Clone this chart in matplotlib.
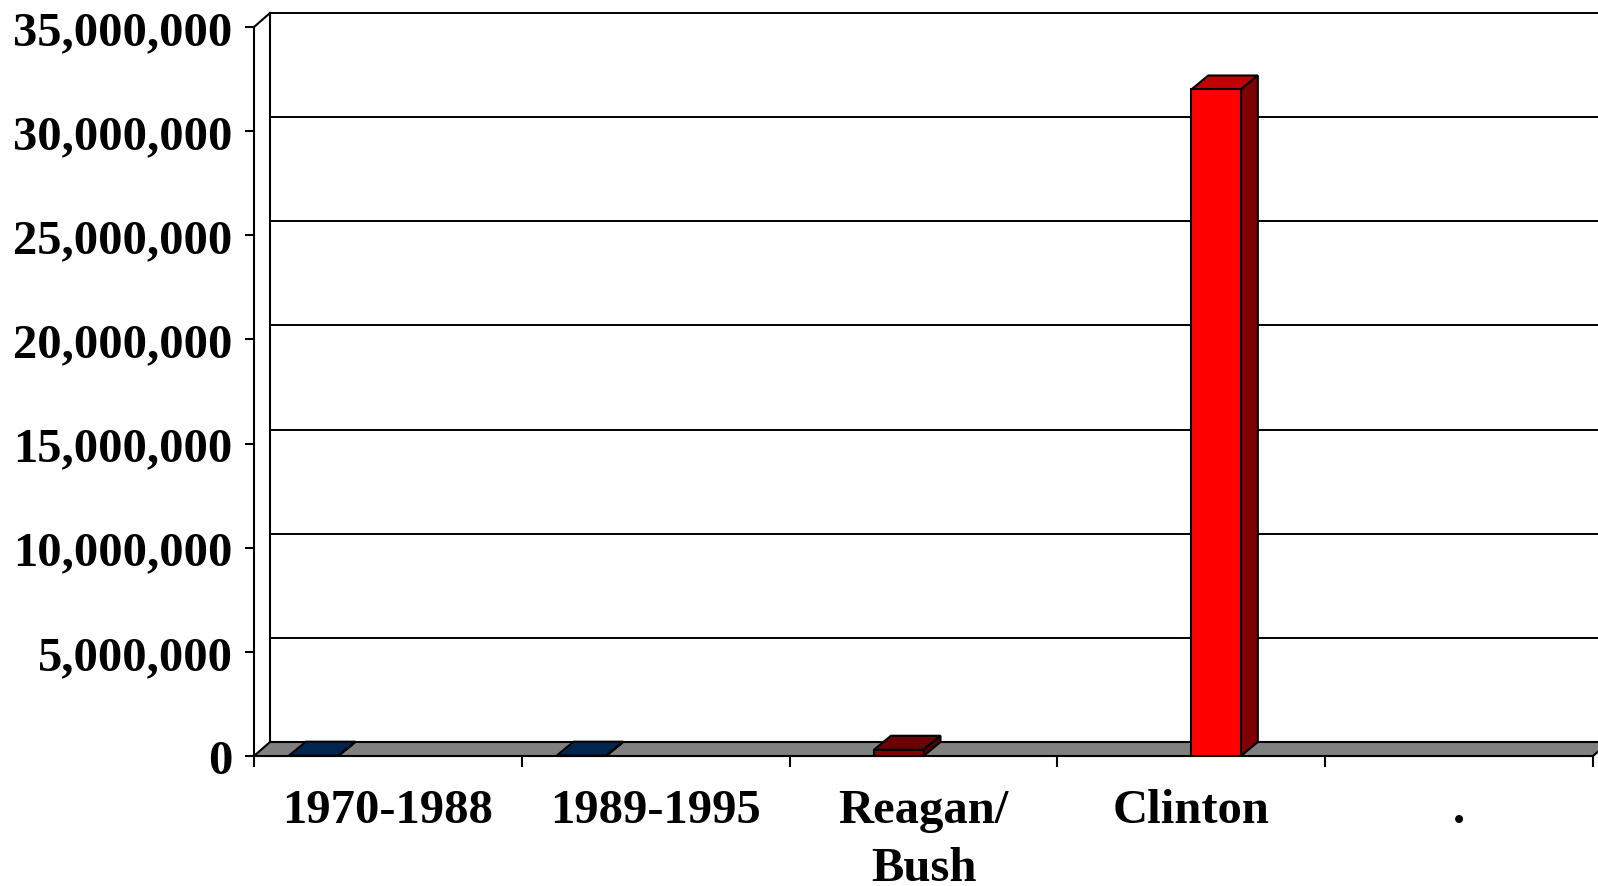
import matplotlib
matplotlib.use("Agg")
import matplotlib.pyplot as plt
from matplotlib.patches import Polygon
from matplotlib.ticker import FuncFormatter, FixedLocator

# data
categories = ["1970-1988", "1989-1995", "Reagan/\nBush", "Clinton", "."]
values = [15000, 15000, 300000, 32000000]
series_idx = [0, 0, 1, 2]          # which slot in the cluster each bar sits in
bar_colors = [("#003366", "#002650", "#001a38"),
              ("#003366", "#002650", "#001a38"),
              ("#800000", "#6a0000", "#500000"),
              ("#ff0000", "#c00000", "#800000")]
y_ticks = list(range(0, 35000001, 5000000))

W, H = 1598, 887
DPI = 100
DX, DY = 16, 14          # depth offset of the back wall, in pixels
BDX, BDY = 17, 14        # depth of the bars

fig = plt.figure(figsize=(W / DPI, H / DPI), dpi=DPI)
ax = fig.add_axes([254 / W, (H - 757) / H, (1593 - 254) / W, (757 - 28) / H])
ax.set_xlim(0, 5)
ax.set_ylim(0, 35000000)
for s in ["top", "right", "bottom"]:
    ax.spines[s].set_visible(False)
ax.spines["left"].set_linewidth(1.5)
ax.patch.set_visible(False)

font = dict(family="Liberation Serif", weight="bold", size=35)


def disp(x, y, back=False, dx=DX, dy=DY):
    px, py = ax.transData.transform((x, y))
    if back:
        px += dx
        py += dy
    return (px, py)


def poly(pts, fc, lw=1.5, z=2):
    fig.add_artist(Polygon(pts, closed=True, facecolor=fc, edgecolor="black",
                           linewidth=lw, transform=None, zorder=z, clip_on=False))


def line(pts, lw=1.5, z=3):
    xs = [p[0] for p in pts]
    ys = [p[1] for p in pts]
    fig.add_artist(plt.Line2D(xs, ys, color="black", linewidth=lw, transform=None,
                              zorder=z, clip_on=False))


# back wall gridlines and left wall
for t in y_ticks[1:]:
    line([disp(0, t, True), disp(5.2, t, True)], lw=1.4, z=1)
line([disp(0, 0, True), disp(0, 35000000, True)], z=1)
line([disp(0, 35000000), disp(0, 35000000, True)], z=1)

# floor
poly([disp(0, 0), disp(5, 0), disp(5, 0, True), disp(0, 0, True)], "#808080", z=1.5)
line([disp(5, 0, True), disp(5.2, 0, True)], z=1.5)

# bars as boxes
gap, bw = 0.13, 0.185
for i, v in enumerate(values):
    x0 = i + gap + series_idx[i] * bw
    x1 = x0 + bw
    front, top, side = bar_colors[i]
    poly([disp(x0, v), disp(x1, v), disp(x1, v, True, BDX, BDY), disp(x0, v, True, BDX, BDY)], top, z=4)
    poly([disp(x1, 0), disp(x1, 0, True, BDX, BDY), disp(x1, v, True, BDX, BDY), disp(x1, v)], side, z=4)
    poly([disp(x0, 0), disp(x1, 0), disp(x1, v), disp(x0, v)], front, z=5)

# y axis
ax.set_yticks(y_ticks)
ax.yaxis.set_major_formatter(FuncFormatter(lambda v, p: f"{int(v):,}"))
ax.tick_params(axis="y", direction="out", length=6.5, width=1.5, pad=9)
for lab in ax.get_yticklabels():
    lab.set_fontproperties(matplotlib.font_manager.FontProperties(**font))

# x axis: boundary ticks, labels centred on categories
ax.xaxis.set_major_locator(FixedLocator(range(6)))
ax.xaxis.set_minor_locator(FixedLocator([i + 0.5 for i in range(5)]))
ax.set_xticklabels([""] * 6)
ax.set_xticklabels(categories, minor=True)
ax.tick_params(axis="x", which="major", direction="out", length=8, width=1.5)
ax.tick_params(axis="x", which="minor", length=0, pad=23)
for lab in ax.get_xticklabels(minor=True):
    lab.set_fontproperties(matplotlib.font_manager.FontProperties(**font))
    lab.set_linespacing(1.42)

fig.savefig("out.png", dpi=DPI)
